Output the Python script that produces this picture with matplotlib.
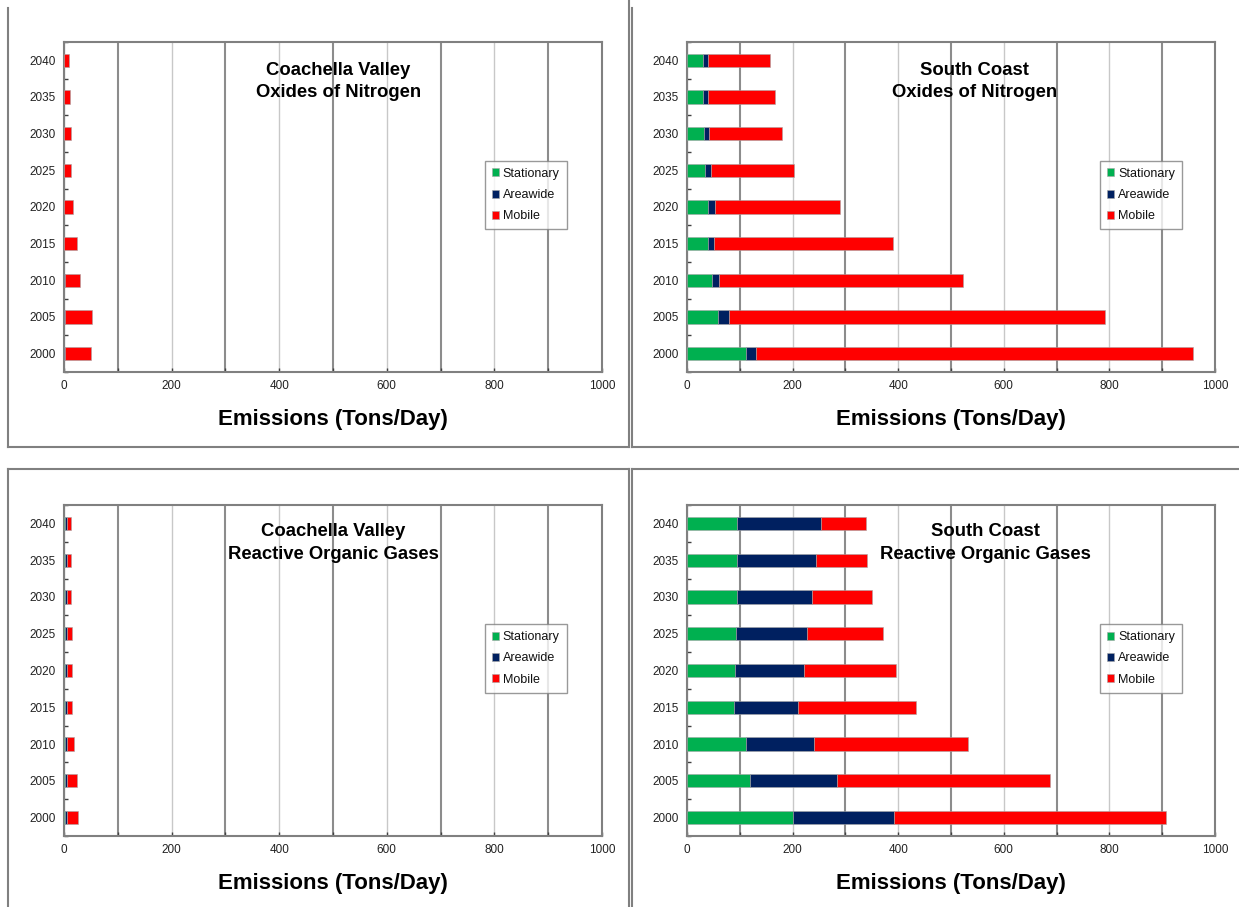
import matplotlib
matplotlib.use("Agg")
import matplotlib.pyplot as plt
from matplotlib.lines import Line2D
from matplotlib.ticker import MultipleLocator, FixedLocator
import numpy as np

plt.rcParams['font.family'] = ['Liberation Sans', 'DejaVu Sans']

years = ["2000", "2005", "2010", "2015", "2020", "2025", "2030", "2035", "2040"]
series_names = ["Stationary", "Areawide", "Mobile"]
colors = ["#00B050", "#002060", "#FF0000"]

# Coachella Valley NOx
cv_nox_stationary = [0.8, 0.8, 0.6, 0.5, 0.4, 0.4, 0.4, 0.4, 0.4]
cv_nox_areawide = [0.5, 0.5, 0.4, 0.4, 0.3, 0.3, 0.3, 0.3, 0.3]
cv_nox_mobile = [48.3, 50.1, 28.7, 22.6, 16.6, 12.3, 11.7, 10.5, 9.2]

# South Coast NOx
sc_nox_stationary = [111, 59, 47, 40, 40, 34, 32, 31, 31]
sc_nox_areawide = [20, 20, 14, 11, 13, 11.5, 9.7, 9, 9.5]
sc_nox_mobile = [827, 713, 462, 339, 237, 157.5, 138, 127, 116.5]

# Coachella Valley ROG
cv_rog_stationary = [2, 2, 2, 2, 2, 2, 2, 2, 2]
cv_rog_areawide = [4.5, 4.5, 4.5, 3.5, 4.5, 4.5, 4.5, 4.5, 4.5]
cv_rog_mobile = [20.1, 17.0, 11.5, 10.0, 7.8, 7.8, 6.5, 6.5, 6.5]

# South Coast ROG
sc_rog_stationary = [200, 119, 112, 89, 91, 93, 95, 95, 95]
sc_rog_areawide = [192, 165, 128, 121, 131, 134.5, 141, 150, 158.5]
sc_rog_mobile = [515, 403, 293, 223, 174, 144, 115, 96, 86]

panels = [
    ("Coachella Valley\nOxides of Nitrogen", [cv_nox_stationary, cv_nox_areawide, cv_nox_mobile],
     (64, 42, 538, 330), (0.51, 0.88)),
    ("South Coast\nOxides of Nitrogen", [sc_nox_stationary, sc_nox_areawide, sc_nox_mobile],
     (687, 42, 528, 330), (0.545, 0.88)),
    ("Coachella Valley\nReactive Organic Gases", [cv_rog_stationary, cv_rog_areawide, cv_rog_mobile],
     (64, 505, 538, 331), (0.50, 0.885)),
    ("South Coast\nReactive Organic Gases", [sc_rog_stationary, sc_rog_areawide, sc_rog_mobile],
     (687, 505, 528, 331), (0.565, 0.885)),
]

W, H = 1239, 907
fig = plt.figure(figsize=(W / 100, H / 100), dpi=100)
fig.patch.set_facecolor("white")

def px(x, y):
    return x / W, 1 - y / H

# panel frame lines
frame_color = "#808080"
segs = [
    ((8, 8), (8, 447)), ((8, 447), (629, 447)), ((629, 0), (629, 447)),
    ((632, 8), (632, 447)), ((632, 447), (1239, 447)),
    ((8, 469), (8, 907)), ((8, 469), (629, 469)), ((629, 469), (629, 907)),
    ((632, 469), (632, 907)), ((632, 469), (1239, 469)),
]
for (x0, y0), (x1, y1) in segs:
    a = px(x0, y0); b = px(x1, y1)
    fig.add_artist(Line2D([a[0], b[0]], [a[1], b[1]], color=frame_color, lw=1.5,
                          transform=fig.transFigure))

for title, series, (lx, ty, w, h), tpos in panels:
    left, top = px(lx, ty)
    ax = fig.add_axes([left, top - h / H, w / W, h / H])
    y = np.arange(len(years))
    base = np.zeros(len(years))
    for vals, name, c in zip(series, series_names, colors):
        vals = np.array(vals, dtype=float)
        ax.barh(y, vals, left=base, height=0.36, color=c, label=name,
                edgecolor=(0.65, 0.65, 0.65), linewidth=0.4, zorder=3)
        base = base + vals
    ax.set_xlim(0, 1000)
    ax.set_ylim(-0.5, len(years) - 0.5)
    ax.xaxis.set_major_locator(MultipleLocator(200))
    ax.xaxis.set_minor_locator(MultipleLocator(100))
    ax.grid(True, which="major", axis="x", color="#c8c8c8", lw=1.0, zorder=0)
    ax.grid(True, which="minor", axis="x", color="#8c8c8c", lw=1.5, zorder=0)
    ax.set_yticks(y)
    ax.set_yticklabels(years)
    ax.yaxis.set_minor_locator(FixedLocator(np.arange(-0.5, len(years), 1.0)))
    ax.tick_params(axis="x", which="both", direction="in", length=3, width=1,
                   color="#404040", labelsize=8.5, pad=6, labelcolor="#222222")
    ax.tick_params(axis="y", which="major", length=0, labelsize=8.5, pad=6,
                   labelcolor="#222222")
    ax.tick_params(axis="y", which="minor", direction="in", length=3, width=1,
                   color="#404040")
    for s in ax.spines.values():
        s.set_color("#808080")
        s.set_linewidth(1.5)
    ax.set_xlabel("Emissions (Tons/Day)", fontsize=16, fontweight="bold", labelpad=12)
    ax.text(tpos[0], tpos[1], title, transform=ax.transAxes, ha="center", va="center",
            fontsize=13.3, fontweight="bold", linespacing=1.4, zorder=5)
    leg = ax.legend(loc="upper left", bbox_to_anchor=(0.782, 0.64), frameon=True,
                    fontsize=9, handlelength=0.6, handleheight=0.6, handletextpad=0.3,
                    borderpad=0.55, labelspacing=0.75, fancybox=False, borderaxespad=0)
    leg.get_frame().set_edgecolor("#808080")
    leg.get_frame().set_linewidth(1.0)
    for t in leg.get_texts():
        t.set_color("#111111")

fig.savefig("out.png", dpi=100, facecolor="white")
